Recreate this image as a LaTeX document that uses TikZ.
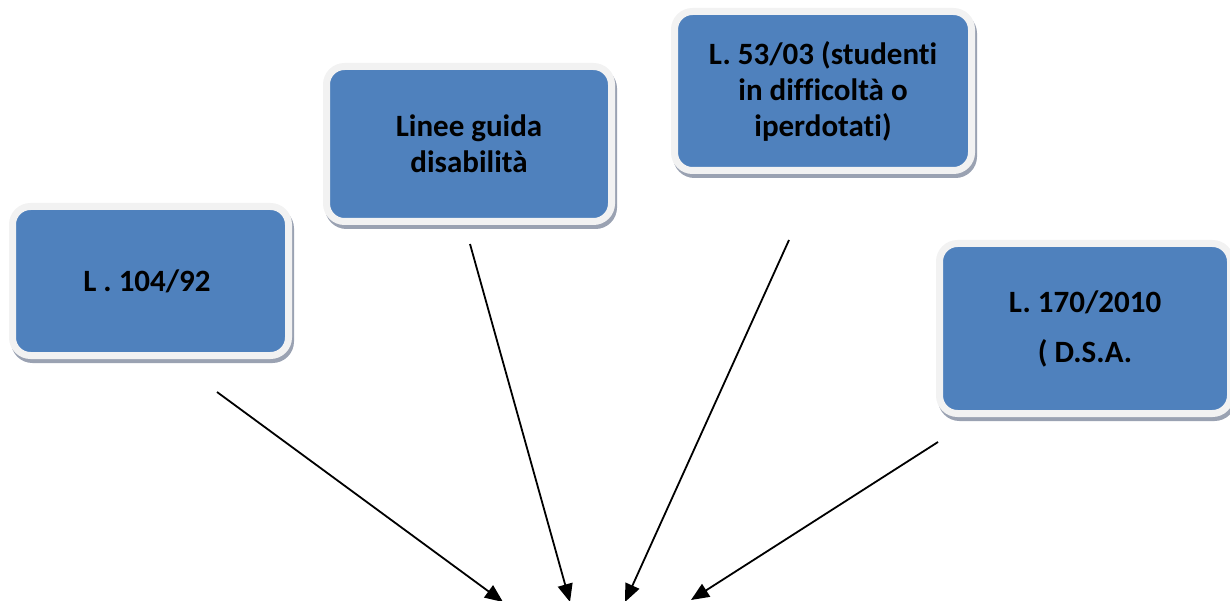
\documentclass[tikz,border=0pt]{standalone}
\usepackage{fontspec}
\setmainfont{Carlito}[RawFeature=-liga]
\usepackage{tikz}
\usetikzlibrary{shadows,arrows.meta}
\definecolor{boxblue}{HTML}{4F81BD}
\definecolor{rimgray}{HTML}{F2F2F2}
\definecolor{shadegray}{HTML}{9AA2B2}

\begin{document}
\begin{tikzpicture}[x=1pt,y=-1pt,
    font=\fontsize{31}{36}\selectfont\bfseries,
    line width=1.8pt,
    >={Triangle[length=18pt,width=15pt]},
    lawbox/.style={
        draw=rimgray,
        line width=7pt,
        fill=boxblue,
        rounded corners=18pt,
        align=center,
        inner sep=0pt,
        drop shadow={shadow xshift=2pt, shadow yshift=-4pt,
            fill=shadegray, draw=shadegray, line width=7pt, opacity=1}
    }
]
\useasboundingbox (0,0) rectangle (1230,601);

\node[lawbox,
    minimum width=276pt,
    minimum height=149pt
] (law104) at (150.5,281) { L . 104/92 };

\node[lawbox,
    minimum width=285pt,
    minimum height=155pt
] (guide) at (469,144) { Linee guida\\disabilità };

\node[lawbox,
    minimum width=297pt,
    minimum height=159pt
] (law53) at (823,91) { L. 53/03 (studenti\\in difficoltà o\\iperdotati) };

\node[lawbox,
    minimum width=291pt,
    minimum height=170pt
] (law170) at (1085,328.5) { L. 170/2010\\[14pt]( D.S.A. };

% loose ends of the arrows
\coordinate (from104) at (217,392);
\coordinate (fromguide) at (470,244);
\coordinate (from53) at (789,240);
\coordinate (from170) at (938,442);

\coordinate (to104) at (503,602);
\coordinate (toguide) at (570,602);
\coordinate (to53) at (625,602);
\coordinate (to170) at (691,600);

\draw[->] (from104) -- (to104);
\draw[->] (fromguide) -- (toguide);
\draw[->] (from53) -- (to53);
\draw[->] (from170) -- (to170);

\end{tikzpicture}
\end{document}
